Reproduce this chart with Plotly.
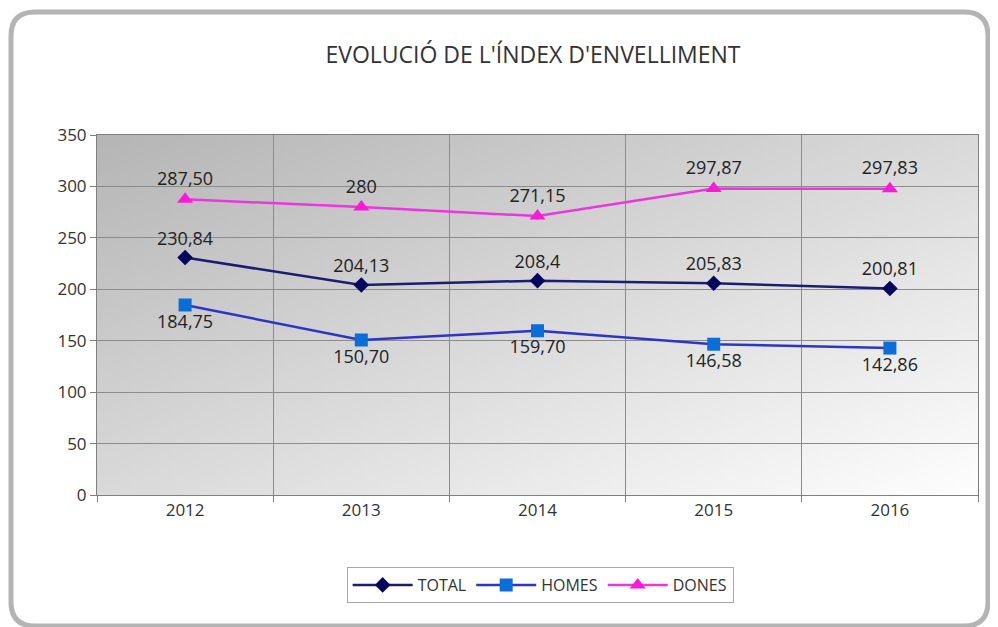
import base64, struct, zlib
import plotly.graph_objects as go

years = ["2012", "2013", "2014", "2015", "2016"]
total = [230.84, 204.13, 208.4, 205.83, 200.81]
homes = [184.75, 150.70, 159.70, 146.58, 142.86]
dones = [287.50, 280, 271.15, 297.87, 297.83]
total_lbl = ["230,84", "204,13", "208,4", "205,83", "200,81"]
homes_lbl = ["184,75", "150,70", "159,70", "146,58", "142,86"]
dones_lbl = ["287,50", "280", "271,15", "297,87", "297,83"]


def gradient_png(n=64):
    rows = b""
    for y in range(n):
        row = b"\x00"
        for x in range(n):
            t = (x / (n - 1) + y / (n - 1)) / 2
            v = int(182 + 72 * t)
            row += bytes([v, v, v])
        rows += row

    def chunk(tag, data):
        c = struct.pack(">I", len(data)) + tag + data
        return c + struct.pack(">I", zlib.crc32(tag + data) & 0xFFFFFFFF)

    png = b"\x89PNG\r\n\x1a\n"
    png += chunk(b"IHDR", struct.pack(">IIBBBBB", n, n, 8, 2, 0, 0, 0))
    png += chunk(b"IDAT", zlib.compress(rows))
    png += chunk(b"IEND", b"")
    return "data:image/png;base64," + base64.b64encode(png).decode()


FONT = "Open Sans"
LBL = dict(size=18, color="#222222", family=FONT)

fig = go.Figure()
fig.add_trace(go.Scatter(
    x=years, y=total, name="TOTAL", mode="lines+markers+text",
    text=total_lbl, textposition="top center",
    line=dict(color="#1c1c72", width=2.5),
    marker=dict(symbol="diamond", size=12, color="#06065e"),
    textfont=LBL,
))
fig.add_trace(go.Scatter(
    x=years, y=homes, name="HOMES", mode="lines+markers+text",
    text=homes_lbl, textposition="bottom center",
    line=dict(color="#2d35c8", width=2.5),
    marker=dict(symbol="square", size=13, color="#0a6ed8"),
    textfont=LBL,
))
fig.add_trace(go.Scatter(
    x=years, y=dones, name="DONES", mode="lines+markers+text",
    text=dones_lbl, textposition="top center",
    line=dict(color="#ee36e0", width=2.5),
    marker=dict(symbol="triangle-up", size=14, color="#fa1ad8"),
    textfont=LBL,
))

# page body has an 8px margin, so figure coords = screenshot coords - 8
W, H = 990, 619
L, T = 89, 127
R, B = 20, 132
pw, ph = W - L - R, H - T - B


def px2x(px):
    return (px - L) / pw


def py2y(py):
    return (H - B - py) / ph


x0, x1, y0, y1 = 3, 980, 4, 618
r = 24
path = (
    f"M {px2x(x0 + r)} {py2y(y0)} L {px2x(x1 - r)} {py2y(y0)} "
    f"Q {px2x(x1)} {py2y(y0)} {px2x(x1)} {py2y(y0 + r)} "
    f"L {px2x(x1)} {py2y(y1 - r)} "
    f"Q {px2x(x1)} {py2y(y1)} {px2x(x1 - r)} {py2y(y1)} "
    f"L {px2x(x0 + r)} {py2y(y1)} "
    f"Q {px2x(x0)} {py2y(y1)} {px2x(x0)} {py2y(y1 - r)} "
    f"L {px2x(x0)} {py2y(y0 + r)} "
    f"Q {px2x(x0)} {py2y(y0)} {px2x(x0 + r)} {py2y(y0)} Z"
)

fig.update_layout(
    width=W, height=H,
    margin=dict(l=L, r=R, t=T, b=B),
    paper_bgcolor="white",
    plot_bgcolor="rgba(0,0,0,0)",
    title=dict(text="EVOLUCIÓ DE L'ÍNDEX D'ENVELLIMENT", x=525 / W, xanchor="center",
               y=1 - 47 / H, yanchor="middle",
               font=dict(family=FONT, size=23, color="#333333")),
    font=dict(family=FONT, color="#333333"),
    showlegend=True,
    legend=dict(orientation="h", x=0.503, xanchor="center", y=-0.2, yanchor="top",
                bordercolor="#a8a8a8", borderwidth=1, bgcolor="white",
                font=dict(size=16, color="#333333"), itemwidth=60),
    images=[dict(source=gradient_png(), xref="paper", yref="paper", x=0, y=1,
                 sizex=1, sizey=1, sizing="stretch", layer="below")],
    shapes=[dict(type="path", path=path, xref="paper", yref="paper",
                 line=dict(color="#b4b4b4", width=5), layer="below")],
)
fig.update_xaxes(
    type="category", tickson="boundaries", showgrid=True, gridcolor="#8c8c8c", gridwidth=1,
    showline=True, linecolor="#808080", mirror=True, ticks="outside", ticklen=6,
    tickcolor="#808080", tickfont=dict(size=17, color="#333333"), range=[-0.5, 4.5],
)
fig.update_yaxes(
    range=[0, 350], dtick=50, showgrid=True, gridcolor="#8c8c8c", gridwidth=1,
    showline=True, linecolor="#808080", mirror=True, ticks="outside", ticklen=6,
    tickcolor="#808080", tickfont=dict(size=17, color="#333333"), zeroline=False,
)

fig.write_html("out.html")
